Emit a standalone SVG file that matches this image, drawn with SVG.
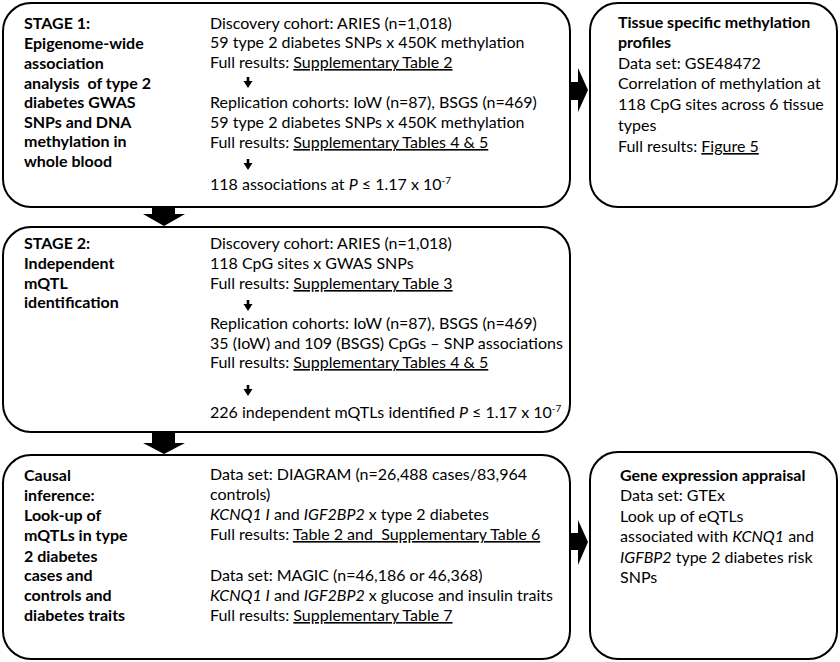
<svg xmlns="http://www.w3.org/2000/svg" width="840" height="662" viewBox="0 0 840 662">
<style>
.box{fill:#fff;stroke:#000;stroke-width:2}
text{font-family:Lato,"Liberation Sans",sans-serif;font-size:16px;fill:#000;white-space:pre}
.b{font-weight:bold}
.u{text-decoration:underline}
.i{font-style:italic}
.arr{fill:#000}
</style>
<defs>
<path id="sa" d="M-1.3,0 H1.3 V4 H4.5 L0,11 L-4.5,4 H-1.3 Z"/>
</defs>
<rect width="840" height="662" fill="#fff"/>
<g id="stage1">
<rect class="box" x="3" y="3" width="567" height="204" rx="28"/>
<text class="b" x="24" xml:space="preserve"><tspan x="24" y="29">STAGE 1:</tspan><tspan x="24" y="49">Epigenome-wide</tspan><tspan x="24" y="69">association</tspan><tspan x="24" y="89">analysis  of type 2</tspan><tspan x="24" y="108">diabetes GWAS</tspan><tspan x="24" y="128">SNPs and DNA</tspan><tspan x="24" y="147">methylation in</tspan><tspan x="24" y="167">whole blood</tspan></text>
<text x="210" y="29">Discovery cohort: ARIES (n=1,018)</text>
<text x="210" y="48">59 type 2 diabetes SNPs x 450K methylation</text>
<text x="210" y="68">Full results: <tspan class="u">Supplementary Table 2</tspan></text>
<use href="#sa" class="arr" x="248" y="77"/>
<text x="210" y="108">Replication cohorts: IoW (n=87), BSGS (n=469)</text>
<text x="210" y="128">59 type 2 diabetes SNPs x 450K methylation</text>
<text x="210" y="148">Full results: <tspan class="u">Supplementary Tables 4 &amp; 5</tspan></text>
<use href="#sa" class="arr" x="248" y="159"/>
<text x="210" y="190">118 associations at <tspan class="i">P</tspan> ≤ 1.17 x 10<tspan font-size="10" dy="-6">-7</tspan></text>
</g>
<g id="tissue">
<rect class="box" x="590" y="3" width="247" height="204" rx="28"/>
<text class="b" x="618" y="28">Tissue specific methylation</text>
<text class="b" x="618" y="48">profiles</text>
<text x="618" y="69">Data set: GSE48472</text>
<text x="618" y="89">Correlation of methylation at</text>
<text x="618" y="110">118 CpG sites across 6 tissue</text>
<text x="618" y="131">types</text>
<text x="618" y="152">Full results: <tspan class="u">Figure 5</tspan></text>
</g>
<g id="stage2">
<rect class="box" x="3" y="227" width="567" height="205" rx="28"/>
<text class="b"><tspan x="24" y="249">STAGE 2:</tspan><tspan x="24" y="269">Independent</tspan><tspan x="24" y="289">mQTL</tspan><tspan x="24" y="308">identification</tspan></text>
<text x="210" y="249">Discovery cohort: ARIES (n=1,018)</text>
<text x="210" y="269">118 CpG sites x GWAS SNPs</text>
<text x="210" y="289">Full results: <tspan class="u">Supplementary Table 3</tspan></text>
<use href="#sa" class="arr" x="248" y="300"/>
<text x="210" y="329">Replication cohorts: IoW (n=87), BSGS (n=469)</text>
<text x="210" y="349">35 (IoW) and 109 (BSGS) CpGs – SNP associations</text>
<text x="210" y="368">Full results: <tspan class="u">Supplementary Tables 4 &amp; 5</tspan></text>
<use href="#sa" class="arr" x="248" y="385"/>
<text x="210" y="418">226 independent mQTLs identified <tspan class="i">P</tspan> ≤ 1.17 x 10<tspan font-size="10" dy="-6">-7</tspan></text>
</g>
<g id="stage3">
<rect class="box" x="3" y="455" width="567" height="204" rx="28"/>
<text class="b"><tspan x="24" y="481">Causal</tspan><tspan x="24" y="501">inference:</tspan><tspan x="24" y="521">Look-up of</tspan><tspan x="24" y="541">mQTLs in type</tspan><tspan x="24" y="562">2 diabetes</tspan><tspan x="24" y="581">cases and</tspan><tspan x="24" y="601">controls and</tspan><tspan x="24" y="621">diabetes traits</tspan></text>
<text x="210" y="480">Data set: DIAGRAM (n=26,488 cases/83,964</text>
<text x="210" y="500">controls)</text>
<text x="210" y="520"><tspan class="i">KCNQ1 I</tspan> and <tspan class="i">IGF2BP2</tspan> x type 2 diabetes</text>
<text x="210" y="540" xml:space="preserve">Full results: <tspan class="u">Table 2 and  Supplementary Table 6</tspan></text>
<text x="210" y="581">Data set: MAGIC (n=46,186 or 46,368)</text>
<text x="210" y="601"><tspan class="i">KCNQ1 I</tspan> and <tspan class="i">IGF2BP2</tspan> x glucose and insulin traits</text>
<text x="210" y="621">Full results: <tspan class="u">Supplementary Table 7</tspan></text>
</g>
<g id="gene">
<rect class="box" x="590" y="452" width="247" height="207" rx="28"/>
<text class="b" x="620" y="481">Gene expression appraisal</text>
<text x="620" y="501">Data set: GTEx</text>
<text x="620" y="522">Look up of eQTLs</text>
<text x="620" y="542">associated with <tspan class="i">KCNQ1</tspan> and</text>
<text x="620" y="563"><tspan class="i">IGFBP2</tspan> type 2 diabetes risk</text>
<text x="620" y="583">SNPs</text>
</g>
<g id="connectors" class="arr">
<path d="M152,207 H175 V214 H185 L164,226 L143,214 H152 Z"/>
<path d="M152,432 H175 V443 H185 L164,454 L143,443 H152 Z"/>
<path d="M570,82 H578 V68 L588,90 L578,112 V100 H570 Z"/>
<path d="M570,533 H578 V520 L588,542 L578,565 V550 H570 Z"/>
</g>
</svg>
